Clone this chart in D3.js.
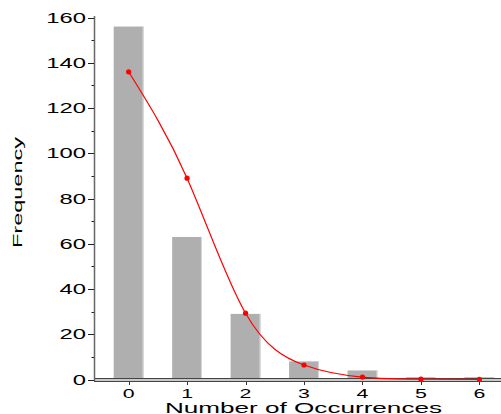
<!DOCTYPE html>
<html><head><meta charset="utf-8">
<script src="https://cdn.jsdelivr.net/npm/d3@7"></script>
<style>body{margin:0;background:#fff}svg{display:block}text{font-family:"Liberation Sans",Arial,sans-serif;fill:#000}</style>
</head><body>
<script>
const categories = ["0","1","2","3","4","5","6"];
const observed = [156, 63, 29, 8, 4, 1, 1];
const fitted = [136, 89, 29.3, 6.4, 1.05, 0.14, 0.02];
const yTicks = [0,20,40,60,80,100,120,140,160];
const xTitle = "Number of Occurrences";
const yTitle = "Frequency";

const W = 501, H = 414;
const svg = d3.select("body").append("svg").attr("width", W).attr("height", H);
const x = d3.scaleBand().domain(categories).range([98.5, 509.5]).paddingInner(0.49).paddingOuter(0.26);
const y = d3.scaleLinear().domain([0,160]).range([379.5, 17.5]);

// bars
svg.append("g").selectAll("rect").data(observed).join("rect")
  .attr("x", (d,i)=>x(categories[i])).attr("width", x.bandwidth())
  .attr("y", d=>y(d)).attr("height", d=>y(0)-y(d)).attr("fill","#afafaf");
svg.append("g").selectAll("rect").data(observed).join("rect")
  .attr("x", (d,i)=>x(categories[i])+x.bandwidth()-1).attr("width", 1)
  .attr("y", d=>y(d)).attr("height", d=>y(0)-y(d)).attr("fill","#d8d8d8");

// x axis band
svg.append("rect").attr("x",94).attr("y",378.5).attr("width",W-94).attr("height",3).attr("fill","#c8c8c8");
svg.append("line").attr("x1",94).attr("x2",W).attr("y1",378.5).attr("y2",378.5).attr("stroke","#444");
svg.append("line").attr("x1",94).attr("x2",W).attr("y1",381.5).attr("y2",381.5).attr("stroke","#444");
svg.append("g").selectAll("line").data(categories).join("line")
  .attr("x1",d=>Math.round(x(d)+x.bandwidth()/2)+0.5).attr("x2",d=>Math.round(x(d)+x.bandwidth()/2)+0.5)
  .attr("y1",382).attr("y2",385).attr("stroke","#333");
svg.append("g").selectAll("text").data(categories).join("text")
  .attr("transform",d=>`translate(${x(d)+x.bandwidth()/2},397.5) scale(1.75,1)`)
  .attr("text-anchor","middle").attr("font-size",12.2).text(d=>d);

// y axis
svg.append("line").attr("x1",94.5).attr("x2",94.5).attr("y1",16).attr("y2",381).attr("stroke","#666").attr("stroke-width",1.5);
const yMinor = d3.range(10,160,20);
svg.append("g").selectAll("line").data(yTicks).join("line")
  .attr("x1",88).attr("x2",94).attr("y1",d=>Math.round(y(d))+0.5).attr("y2",d=>Math.round(y(d))+0.5).attr("stroke","#222");
svg.append("g").selectAll("line").data(yMinor).join("line")
  .attr("x1",91.5).attr("x2",94).attr("y1",d=>Math.round(y(d))+0.5).attr("y2",d=>Math.round(y(d))+0.5).attr("stroke","#222");
svg.append("g").selectAll("text").data(yTicks).join("text")
  .attr("transform",d=>`translate(86,${y(d)+5}) scale(1.7,1)`)
  .attr("text-anchor","end").attr("font-size",14).text(d=>d);

// fit curve
const pts = fitted.map((v,i)=>[x(categories[i])+x.bandwidth()/2, y(v)]);
svg.append("path").attr("d", d3.line().curve(d3.curveNatural)(pts))
  .attr("fill","none").attr("stroke","#ff0000").attr("stroke-width",1.2);
svg.append("g").selectAll("circle").data(pts).join("circle")
  .attr("cx",d=>d[0]).attr("cy",d=>d[1]).attr("r",2.6).attr("fill","#ff0000");

// titles
svg.append("text").attr("x",165).attr("y",412.5).attr("font-size",14)
  .attr("textLength",277).attr("lengthAdjust","spacingAndGlyphs").text(xTitle);
svg.append("text").attr("transform","translate(21.5,248) rotate(-90)").attr("font-size",13)
  .attr("textLength",111).attr("lengthAdjust","spacingAndGlyphs").text(yTitle);
</script>
</body></html>
